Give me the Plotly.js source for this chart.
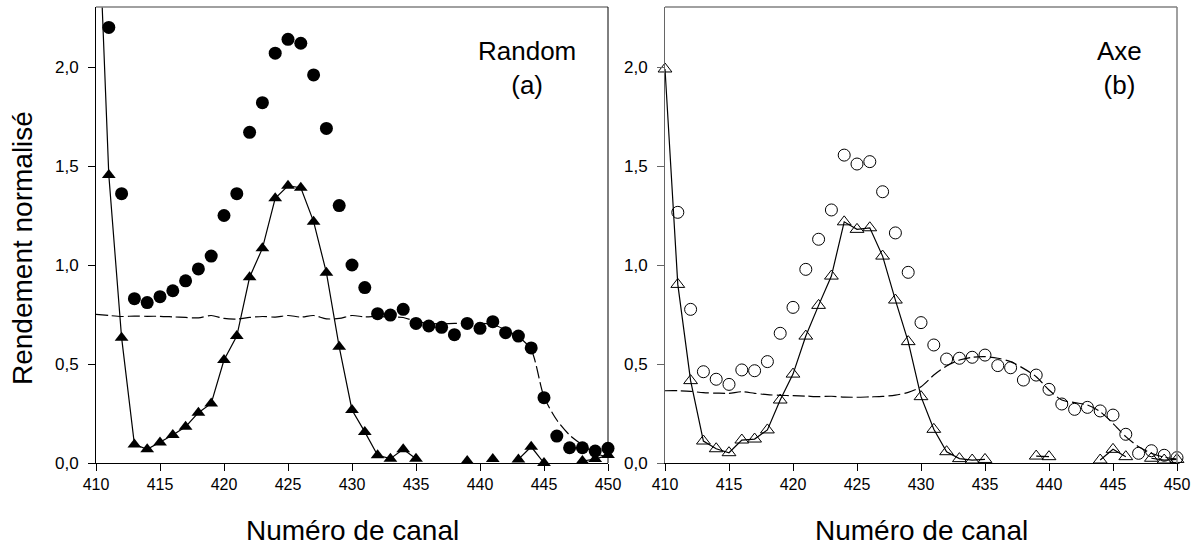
<!DOCTYPE html>
<html>
<head>
<meta charset="utf-8">
<script src="https://cdn.plot.ly/plotly-3.0.1.min.js"></script>
<style>html,body{margin:0;padding:0;background:#fff;}#chart{width:1200px;height:549px;}</style>
</head>
<body>
<div id="chart"></div>
<script>
// Channels (x) shared by both panels
const channels = [410,411,412,413,414,415,416,417,418,419,420,421,422,423,424,425,426,427,428,429,430,431,432,433,434,435,436,437,438,439,440,441,442,443,444,445,446,447,448,449,450];

// Panel (a) Random
const circA = [null,2.20,1.36,0.83,0.81,0.84,0.87,0.92,0.98,1.045,1.25,1.36,1.67,1.82,2.07,2.14,2.12,1.96,1.69,1.30,1.00,0.886,0.754,0.747,0.776,0.705,0.692,0.685,0.648,0.705,0.68,0.714,0.658,0.641,0.581,0.33,0.136,0.077,0.077,0.06,0.074];
const triA = [3.1,1.455,0.633,0.094,0.069,0.103,0.141,0.183,0.254,0.301,0.52,0.641,0.938,1.084,1.337,1.40,1.39,1.219,0.961,0.587,0.268,0.157,0.039,0.022,0.069,0.022,null,null,null,0.01,null,0.02,null,0.018,0.082,0,null,null,0.01,0.02,0.04];
const dashA = [0.751,0.745,0.740,0.742,0.741,0.741,0.738,0.735,0.733,0.745,0.730,0.727,0.735,0.740,0.737,0.745,0.737,0.745,0.728,0.730,0.745,0.738,0.740,0.737,0.735,0.715,0.705,0.703,0.705,0.705,0.705,0.700,0.672,0.638,0.571,0.335,0.217,0.141,0.091,0.049,0.03];

// Panel (b) Axe
const circB = [null,1.266,0.776,0.461,0.423,0.397,0.47,0.466,0.512,0.655,0.786,0.978,1.13,1.278,1.555,1.51,1.522,1.37,1.162,0.963,0.709,0.596,0.525,0.529,0.534,0.545,0.492,0.481,0.419,0.444,0.372,0.298,0.271,0.281,0.263,0.242,0.145,0.049,0.062,0.039,0.027];
const triB = [1.99,0.902,0.416,0.111,0.072,0.052,0.116,0.121,0.167,0.318,0.449,0.641,0.796,0.944,1.218,1.18,1.188,1.045,0.823,0.613,0.335,0.17,0.057,0.022,0.015,0.018,null,null,null,0.035,0.032,null,null,null,0.015,0.069,0.032,null,0.024,0.015,0.018];
const dashB = [0.365,0.365,0.362,0.355,0.353,0.352,0.36,0.352,0.345,0.342,0.34,0.338,0.335,0.337,0.333,0.332,0.334,0.336,0.343,0.357,0.385,0.444,0.49,0.52,0.534,0.537,0.529,0.512,0.478,0.436,0.369,0.318,0.305,0.293,0.259,0.2,0.133,0.082,0.049,0.029,0.02];

const yTickVals = [0,0.5,1.0,1.5,2.0];
const xTickVals = [410,415,420,425,430,435,440,445,450];
const panelLabels = ["Random<br>(a)", "Axe<br>(b)"];
const xTitle = "Numéro de canal";
const yTitle = "Rendement normalisé";

const W = 1200, H = 549;
const px = v => v / W;
const py = v => (H - v) / H;
const FONT = "Liberation Sans, Arial, sans-serif";

const dashStyle = {color:'#000', width:1.2, dash:'12px,4px', shape:'spline', smoothing:0.8};

const traces = [
  {x:channels, y:dashA, xaxis:'x', yaxis:'y', mode:'lines', line:dashStyle, connectgaps:false},
  {x:channels, y:triA, xaxis:'x', yaxis:'y', mode:'lines+markers', line:{color:'#000', width:1.2},
   marker:{symbol:'triangle-up', size:12, color:'#000'}, connectgaps:false, cliponaxis:false},
  {x:channels, y:circA, xaxis:'x', yaxis:'y', mode:'markers',
   marker:{symbol:'circle', size:13, color:'#000'}, cliponaxis:false},
  {x:channels, y:dashB, xaxis:'x2', yaxis:'y2', mode:'lines', line:dashStyle, connectgaps:false},
  {x:channels, y:triB, xaxis:'x2', yaxis:'y2', mode:'lines+markers', line:{color:'#000', width:1.2},
   marker:{symbol:'triangle-up-open', size:12, color:'#000', line:{width:1}}, connectgaps:false, cliponaxis:false},
  {x:channels, y:circB, xaxis:'x2', yaxis:'y2', mode:'markers',
   marker:{symbol:'circle-open', size:12, color:'#000', line:{width:1}}, cliponaxis:false}
];

const xTop = 7, xBot = 463;
const yDom = [py(xBot), py(xTop)];
const yRange = [0, (xBot - xTop) / 198];

const xBase = {range:[410,450], tickvals:xTickVals, ticks:'outside', ticklen:7, tickcolor:'#000',
  showline:true, linecolor:'#000', linewidth:1, showgrid:false, zeroline:false,
  tickfont:{family:FONT, size:16, color:'#000'}, fixedrange:true};
const yBase = {range:yRange, tickvals:yTickVals, tickformat:'.1f', ticks:'outside', ticklen:7, tickcolor:'#000',
  ticklabelstandoff:6,
  showline:true, linecolor:'#000', linewidth:1, showgrid:false, zeroline:false,
  tickfont:{family:FONT, size:17, color:'#000'}, fixedrange:true};

const layout = {
  width:W, height:H, margin:{l:0,r:0,t:0,b:0}, showlegend:false,
  paper_bgcolor:'#fff', plot_bgcolor:'#fff', separators:',.',
  xaxis:Object.assign({}, xBase, {domain:[px(96), px(608)], anchor:'y'}),
  yaxis:Object.assign({}, yBase, {domain:yDom, anchor:'x'}),
  xaxis2:Object.assign({}, xBase, {domain:[px(665), px(1177)], anchor:'y2'}),
  yaxis2:Object.assign({}, yBase, {domain:yDom, anchor:'x2', linecolor:'#666', tickcolor:'#666'}),
  shapes:[
    {type:'line', xref:'paper', yref:'paper', x0:px(96), x1:px(608), y0:py(xTop), y1:py(xTop), line:{color:'#808080', width:1.5}},
    {type:'line', xref:'paper', yref:'paper', x0:px(608), x1:px(608), y0:py(xBot), y1:py(xTop), line:{color:'#000', width:1}},
    {type:'line', xref:'paper', yref:'paper', x0:px(665), x1:px(1177), y0:py(xTop), y1:py(xTop), line:{color:'#808080', width:1.5}},
    {type:'line', xref:'paper', yref:'paper', x0:px(1177), x1:px(1177), y0:py(xBot), y1:py(xTop), line:{color:'#808080', width:1.5}}
  ],
  annotations:[
    {text:panelLabels[0], xref:'paper', yref:'paper', x:px(527), y:py(68), xanchor:'center', yanchor:'middle',
     showarrow:false, font:{family:FONT, size:26, color:'#000'}},
    {text:panelLabels[1], xref:'paper', yref:'paper', x:px(1119), y:py(68), xanchor:'center', yanchor:'middle',
     showarrow:false, font:{family:FONT, size:26, color:'#000'}},
    {text:xTitle, xref:'paper', yref:'paper', x:px(352), y:py(530), xanchor:'center', yanchor:'middle',
     showarrow:false, font:{family:FONT, size:28, color:'#000'}},
    {text:xTitle, xref:'paper', yref:'paper', x:px(921), y:py(530), xanchor:'center', yanchor:'middle',
     showarrow:false, font:{family:FONT, size:28, color:'#000'}},
    {text:yTitle, xref:'paper', yref:'paper', x:px(22), y:py(248), xanchor:'center', yanchor:'middle', textangle:-90,
     showarrow:false, font:{family:FONT, size:28, color:'#000'}}
  ]
};

Plotly.newPlot('chart', traces, layout, {staticPlot:true, displayModeBar:false});
</script>
</body>
</html>
